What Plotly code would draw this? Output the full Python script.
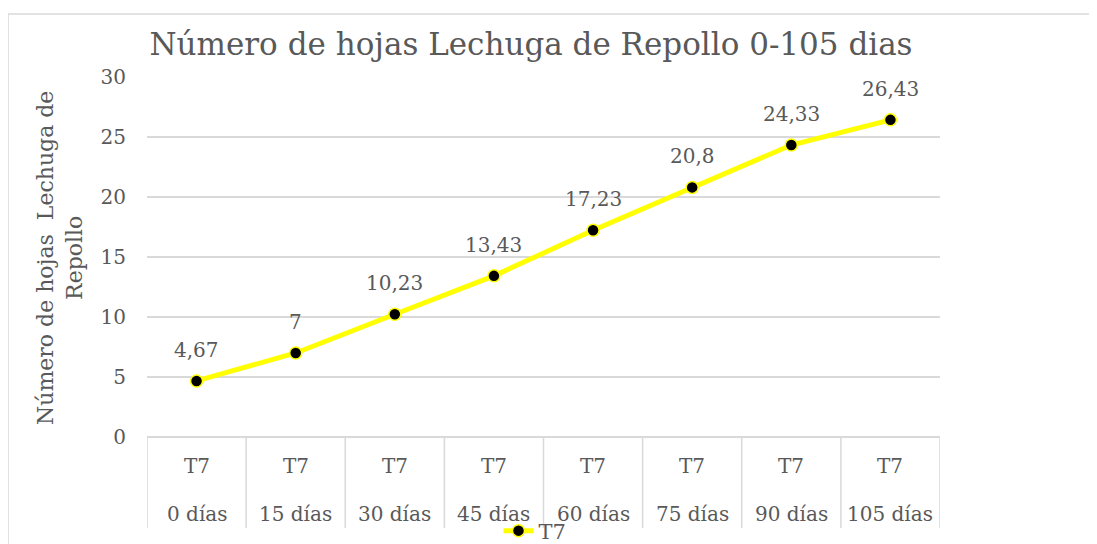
import plotly.graph_objects as go

days = ["0 días", "15 días", "30 días", "45 días", "60 días", "75 días", "90 días", "105 días"]
group = ["T7"] * 8
values = [4.67, 7, 10.23, 13.43, 17.23, 20.8, 24.33, 26.43]
value_labels = ["4,67", "7", "10,23", "13,43", "17,23", "20,8", "24,33", "26,43"]
series_name = "T7"
title = "Número de hojas Lechuga de Repollo 0-105 dias"
y_title = "Número de hojas\u00a0 Lechuga de<br>Repollo"
y_ticks = [0, 5, 10, 15, 20, 25, 30]

FONT = "DejaVu Serif"
TXT = "#595959"
GRID = "#d9d9d9"

OFF = 8  # page body margin
W, H = 1097 - OFF, 544 - OFF
# reference page pixel positions of the plot area
L, R, T, B = 147 - OFF, 940 - OFF, 77 - OFF, 437 - OFF
pw, ph = R - L, B - T

def px_x(p):
    return (p - OFF - L) / pw

def px_y(p):
    return (B - (p - OFF)) / ph

fig = go.Figure()
fig.add_trace(go.Scatter(
    x=days, y=values, name=series_name, mode="lines+markers",
    line=dict(color="#FFFF00", width=5),
    marker=dict(size=12, color="black", line=dict(color="#FFFF00", width=1.5)),
    cliponaxis=False,
))

annotations = []
for d, v, lab in zip(days, values, value_labels):
    annotations.append(dict(x=d, y=v, xref="x", yref="y", text=lab, showarrow=False,
                            yshift=31, font=dict(family=FONT, size=20, color=TXT)))
for d, g in zip(days, group):
    annotations.append(dict(x=d, y=px_y(466), xref="x", yref="paper", text=g, showarrow=False,
                            yanchor="middle", font=dict(family=FONT, size=20, color=TXT)))
    annotations.append(dict(x=d, y=px_y(514), xref="x", yref="paper", text=d, showarrow=False,
                            yanchor="middle", font=dict(family=FONT, size=20, color=TXT)))
annotations.append(dict(x=px_x(60), y=px_y(258), xref="paper", yref="paper", text=y_title,
                        showarrow=False, textangle=-90, xanchor="center", yanchor="middle",
                        font=dict(family=FONT, size=22, color=TXT)))

shapes = []
for i in range(len(days) + 1):
    shapes.append(dict(type="line", xref="x", yref="paper", x0=i - 0.5, x1=i - 0.5,
                       y0=0, y1=px_y(528), line=dict(color=GRID, width=1.5)))
# chart frame
shapes.append(dict(type="line", xref="paper", yref="paper", x0=px_x(8), x1=px_x(8),
                   y0=px_y(14), y1=px_y(600), line=dict(color=GRID, width=1.5)))
shapes.append(dict(type="line", xref="paper", yref="paper", x0=px_x(8), x1=px_x(1200),
                   y0=px_y(14), y1=px_y(14), line=dict(color=GRID, width=1.5)))

fig.update_layout(
    width=W, height=H,
    margin=dict(l=L, r=W - R, t=T, b=H - B, autoexpand=False),
    paper_bgcolor="white", plot_bgcolor="white",
    title=dict(text=title, x=(531 - OFF) / W, xref="container", xanchor="center",
               y=1 - (44 - OFF) / H, yref="container", yanchor="middle",
               font=dict(family=FONT, size=31, color=TXT)),
    showlegend=True,
    legend=dict(orientation="h", x=px_x(535), y=px_y(531), xanchor="center", yanchor="middle",
                font=dict(family=FONT, size=21, color=TXT), bgcolor="rgba(0,0,0,0)",
                itemwidth=30),
    xaxis=dict(type="category", categoryorder="array", categoryarray=days,
               range=[-0.5, len(days) - 0.5], showticklabels=False, showgrid=False,
               zeroline=False, showline=False, fixedrange=True),
    yaxis=dict(range=[0, 30], tickvals=y_ticks, showgrid=True, gridcolor=GRID, gridwidth=1.5,
               zeroline=True, zerolinecolor=GRID, zerolinewidth=1.5, showline=False,
               ticklabelstandoff=20,
               tickfont=dict(family=FONT, size=20, color=TXT)),
    annotations=annotations,
    shapes=shapes,
)

fig.write_html("out.html")
